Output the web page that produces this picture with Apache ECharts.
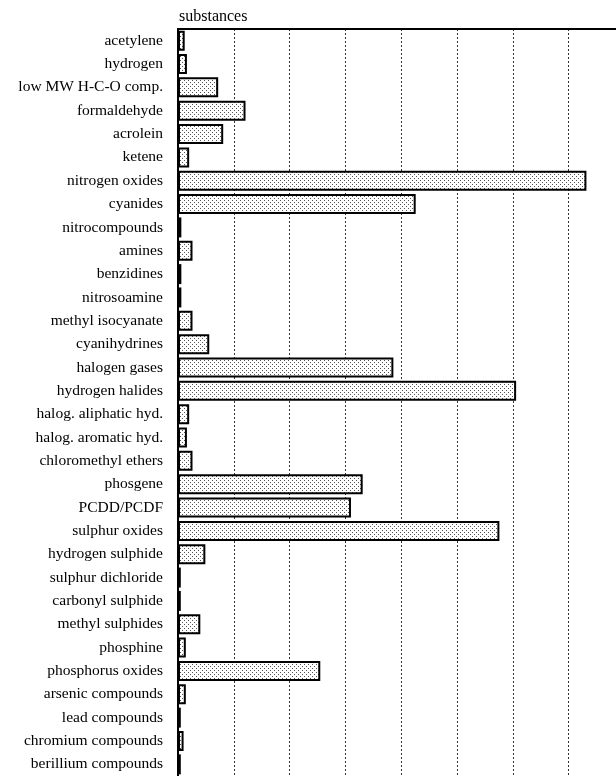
<!DOCTYPE html>
<html>
<head>
<meta charset="utf-8">
<script src="https://cdn.jsdelivr.net/npm/echarts@6/dist/echarts.min.js"></script>
<style>
html,body{margin:0;padding:0;background:#fff;}
#chart{width:616px;height:776px;}
</style>
</head>
<body>
<div id="chart"></div>
<script>
const categories = [
  'acetylene','hydrogen','low MW H-C-O comp.','formaldehyde','acrolein','ketene',
  'nitrogen oxides','cyanides','nitrocompounds','amines','benzidines','nitrosoamine',
  'methyl isocyanate','cyanihydrines','halogen gases','hydrogen halides',
  'halog. aliphatic hyd.','halog. aromatic hyd.','chloromethyl ethers','phosgene',
  'PCDD/PCDF','sulphur oxides','hydrogen sulphide','sulphur dichloride',
  'carbonyl sulphide','methyl sulphides','phosphine','phosphorus oxides',
  'arsenic compounds','lead compounds','chromium compounds','berillium compounds'
];
const values = [
  0.12, 0.16, 0.72, 1.21, 0.81, 0.20,
  7.32, 4.26, 0.06, 0.26, 0.06, 0.06,
  0.26, 0.56, 3.86, 6.06,
  0.20, 0.16, 0.26, 3.31,
  3.10, 5.76, 0.49, 0.05,
  0.05, 0.40, 0.14, 2.55,
  0.14, 0.05, 0.10, 0.05
];
const titleText = 'substances';

// stipple pattern
const pc = document.createElement('canvas');
pc.width = 4; pc.height = 4;
const pctx = pc.getContext('2d');
pctx.fillStyle = '#ffffff';
pctx.fillRect(0,0,4,4);
pctx.fillStyle = '#555555';
pctx.fillRect(0,0,1,1);
pctx.fillRect(2,2,1,1);

const chart = echarts.init(document.getElementById('chart'));
chart.setOption({
  animation: false,
  backgroundColor: '#fff',
  title: {
    text: titleText,
    left: 174, top: 4,
    textStyle: {fontFamily: 'Liberation Serif', fontSize: 16, fontWeight: 'normal', color: '#000'}
  },
  grid: {left: 178, top: 29, right: 0, bottom: -2, containLabel: false},
  xAxis: {
    type: 'value', position: 'top', min: 0, max: 7.85, interval: 1,
    axisLine: {show: true, lineStyle: {color: '#000', width: 2}},
    axisTick: {show: false},
    axisLabel: {show: false},
    splitLine: {show: true, lineStyle: {color: '#333', type: [2, 2], width: 1}}
  },
  yAxis: {
    type: 'category', inverse: true, data: categories,
    axisLine: {show: true, lineStyle: {color: '#000', width: 2}},
    axisTick: {show: false},
    axisLabel: {margin: 15, color: '#000', fontFamily: 'Liberation Serif', fontSize: 15.5}
  },
  series: [{
    type: 'bar', data: values, barWidth: 20,
    itemStyle: {color: {image: pc, repeat: 'repeat'}, borderColor: '#000', borderWidth: 2}
  }]
});
</script>
</body>
</html>
